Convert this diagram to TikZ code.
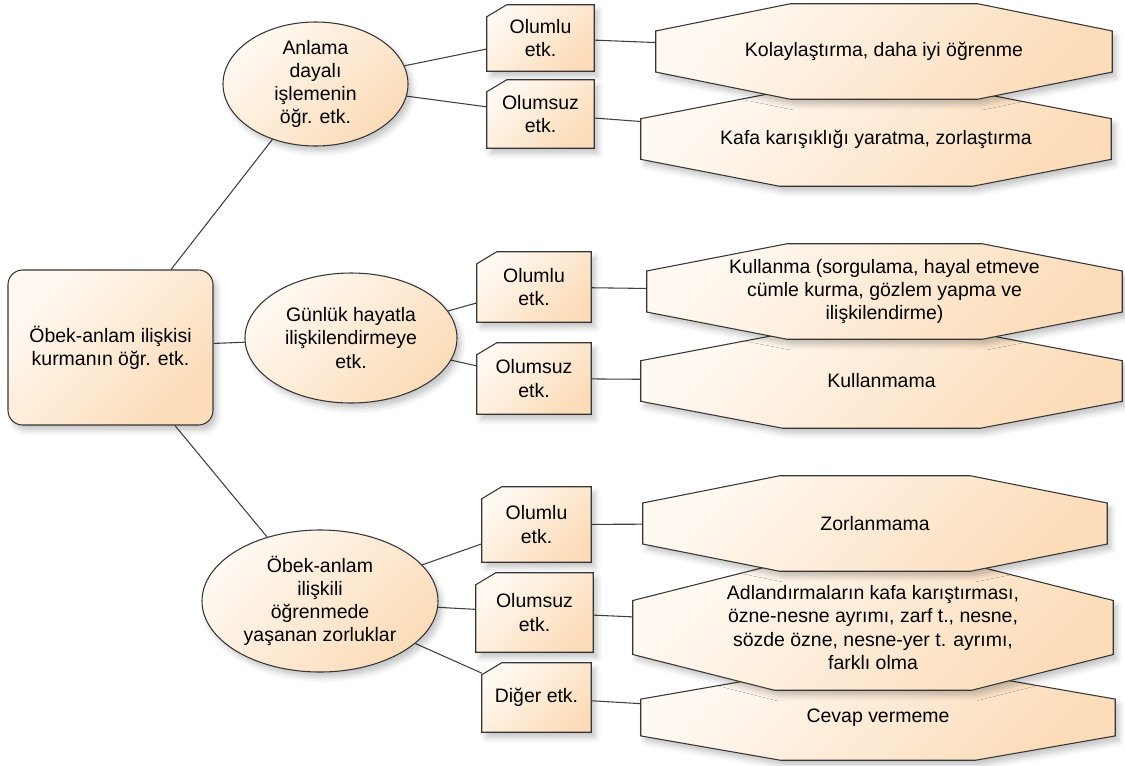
\documentclass[tikz,border=0pt]{standalone}
\usepackage{fontspec}
\setmainfont{Liberation Sans}
\usetikzlibrary{shapes.geometric,shadows.blur,calc}
\pgfdeclarelayer{edges}
\pgfdeclarelayer{shapes}
\pgfsetlayers{edges,shapes,main}
\newdimen\pu \pu=0.75pt
\definecolor{lite}{HTML}{FFF9F2}
\definecolor{peach}{HTML}{FCDCB9}
\definecolor{bordercol}{HTML}{363636}
\definecolor{conncol}{HTML}{404040}
\tikzset{
 shfill/.style={draw=bordercol, line width=0.8pt, top color=lite, bottom color=peach, shading angle=45,
   blur shadow={shadow xshift=3pt, shadow yshift=-4pt, shadow blur radius=4pt, shadow opacity=22}},
 txt/.style={font=\fontsize{14.6pt}{17.3pt}\selectfont, align=center, text=black, inner sep=0pt},
 rootbox/.style={txt, shfill, rectangle, rounded corners=11pt, minimum width=205*\pu, minimum height=155*\pu},
 oval/.style={txt, shfill, ellipse},
 cardbox/.style={txt, rectangle, draw=none},
 octbox/.style={txt, rectangle, draw=none},
 conline/.style={draw=conncol, line width=0.8pt},
}
\newcommand\cardshape[1]{\path[shfill] ($(#1.north west)+(0,12)$) -- ($(#1.north west)+(20,0)$) -- (#1.north east) -- (#1.south east) -- (#1.south west) -- cycle;}
\newcommand\octshape[1]{\path[shfill] ($(#1.west)!0.43!(#1.north west)$) -- ($(#1.north west)!0.295!(#1.north east)$) -- ($(#1.north east)!0.295!(#1.north west)$) -- ($(#1.east)!0.43!(#1.north east)$) -- ($(#1.east)!0.43!(#1.south east)$) -- ($(#1.south east)!0.295!(#1.south west)$) -- ($(#1.south west)!0.295!(#1.south east)$) -- ($(#1.west)!0.43!(#1.south west)$) -- cycle;}
\begin{document}
\begin{tikzpicture}[x=0.75pt,y=-0.75pt]
\useasboundingbox (0,0) rectangle (1125,765);
% root and ellipses
\node[rootbox] (root) at (110.5,347.5) {Öbek-anlam ilişkisi\\kurmanın öğr. etk.};
\node[oval, minimum width=185*\pu, minimum height=124*\pu] (e1) at (315.5,84) {Anlama\\dayalı\\işlemenin\\öğr. etk.};
\node[oval, minimum width=212*\pu, minimum height=130*\pu] (e2) at (351,338) {Günlük hayatla\\ilişkilendirmeye\\etk.};
\node[oval, minimum width=236*\pu, minimum height=142*\pu] (e3) at (320,601) {Öbek-anlam\\ilişkili\\öğrenmede\\yaşanan zorluklar};
% cards
\node[cardbox, minimum width=107*\pu, minimum height=66*\pu] (p1) at (540.5,38) {Olumlu\\etk.};
\node[cardbox, minimum width=107*\pu, minimum height=68*\pu] (n1) at (540.5,114) {Olumsuz\\etk.};
\node[cardbox, minimum width=114*\pu, minimum height=70*\pu] (p2) at (534,287) {Olumlu\\etk.};
\node[cardbox, minimum width=114*\pu, minimum height=71*\pu] (n2) at (534,378.5) {Olumsuz\\etk.};
\node[cardbox, minimum width=109*\pu, minimum height=75*\pu] (p3) at (536.5,524.5) {Olumlu\\etk.};
\node[cardbox, minimum width=117*\pu, minimum height=79*\pu] (n3) at (534.5,612.5) {Olumsuz\\etk.};
\node[cardbox, minimum width=109*\pu, minimum height=69*\pu] (d3) at (536.5,697.5) {Diğer etk.};
% octagons
\node[octbox, minimum width=456*\pu, minimum height=95*\pu] (o1) at (884,51.5) {Kolaylaştırma, daha iyi öğrenme};
\node[octbox, minimum width=470*\pu, minimum height=94*\pu] (o2) at (876,139) {Kafa karışıklığı yaratma, zorlaştırma};
\node[octbox, minimum width=475*\pu, minimum height=95*\pu] (o3) at (884.5,291.5) {Kullanma (sorgulama, hayal etmeve\\cümle kurma, gözlem yapma ve\\ilişkilendirme)};
\node[octbox, minimum width=481*\pu, minimum height=94*\pu] (o4) at (881.5,381) {Kullanmama};
\node[octbox, minimum width=464*\pu, minimum height=95*\pu] (o5) at (875,523.5) {Zorlanmama};
\node[octbox, minimum width=480*\pu, minimum height=125*\pu] (o6) at (873,627.5) {Adlandırmaların kafa karıştırması,\\özne-nesne ayrımı, zarf t., nesne,\\sözde özne, nesne-yer t. ayrımı,\\farklı olma};
\node[octbox, minimum width=474*\pu, minimum height=85*\pu] (o7) at (878,717.5) {Cevap vermeme};
\begin{pgfonlayer}{shapes}
\cardshape{p1}\cardshape{n1}\cardshape{p2}\cardshape{n2}\cardshape{p3}\cardshape{n3}\cardshape{d3}
\octshape{o2}\octshape{o1}
\octshape{o4}\octshape{o3}
\octshape{o7}\octshape{o6}\octshape{o5}
\end{pgfonlayer}
\begin{pgfonlayer}{edges}
\draw[conline] (root) -- (e1);
\draw[conline] (root) -- (e2);
\draw[conline] (root) -- (e3);
\draw[conline] (e1) -- (p1);
\draw[conline] (e1) -- (n1);
\draw[conline] (e2) -- (p2);
\draw[conline] (e2) -- (n2);
\draw[conline] (e3) -- (p3);
\draw[conline] (e3) -- (n3);
\draw[conline] (e3) -- (d3);
\draw[conline] (p1) -- (o1);
\draw[conline] (n1) -- (o2);
\draw[conline] (p2) -- (o3);
\draw[conline] (n2) -- (o4);
\draw[conline] (p3) -- (o5);
\draw[conline] (n3) -- (o6);
\draw[conline] (d3) -- (o7);
\end{pgfonlayer}
\end{tikzpicture}
\end{document}
